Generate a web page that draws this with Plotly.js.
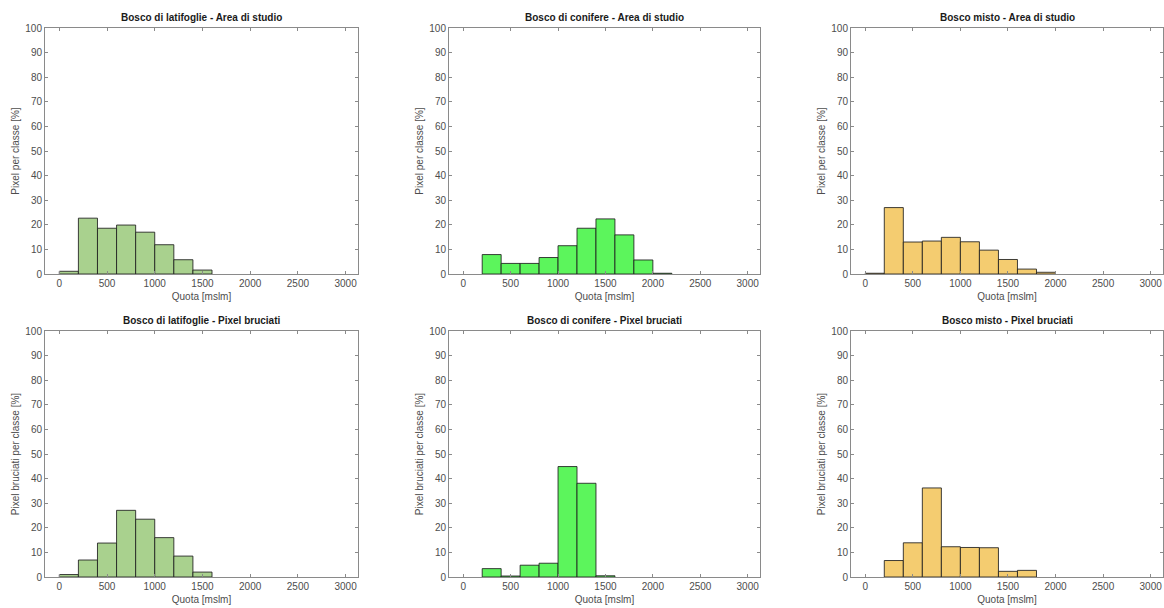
<!DOCTYPE html>
<html>
<head>
<meta charset="utf-8">
<script src="https://cdn.plot.ly/plotly-3.0.1.min.js"></script>
<style>
html,body{margin:0;padding:0;background:#fff;}
#chart{width:1164px;height:608px;}
</style>
</head>
<body>
<div id="chart"></div>
<script>
// Bin centres (200 m wide classes) [m s.l.m.]
const binCenters = [100, 300, 500, 700, 900, 1100, 1300, 1500, 1700, 1900, 2100];

// Area di studio [%]
const latifoglieArea = [1.1, 22.7, 18.6, 19.9, 17.0, 11.9, 5.8, 1.6, null, null, null];
const conifereArea   = [null, 7.9, 4.3, 4.3, 6.7, 11.5, 18.6, 22.4, 15.9, 5.7, 0.3];
const mistoArea      = [0.3, 27.0, 13.0, 13.4, 14.9, 13.1, 9.7, 5.9, 2.0, 0.7, null];

// Pixel bruciati [%]
const latifoglieBurn = [1.0, 6.9, 13.8, 27.1, 23.5, 16.0, 8.5, 2.0, null, null, null];
const conifereBurn   = [null, 3.4, 0.4, 4.8, 5.6, 44.9, 38.1, 0.5, null, null, null];
const mistoBurn      = [null, 6.7, 13.9, 36.2, 12.3, 12.0, 11.9, 2.3, 2.7, null, null];

const panelTitles = [
  "Bosco di latifoglie - Area di studio",
  "Bosco di conifere - Area di studio",
  "Bosco misto - Area di studio",
  "Bosco di latifoglie - Pixel bruciati",
  "Bosco di conifere - Pixel bruciati",
  "Bosco misto - Pixel bruciati"
];
const yTitles = ["Pixel per classe [%]", "Pixel bruciati per classe [%]"];
const xTitle = "Quota [mslm]";
const xTickVals = [0, 500, 1000, 1500, 2000, 2500, 3000];
const yTickVals = [0, 10, 20, 30, 40, 50, 60, 70, 80, 90, 100];

const series = [latifoglieArea, conifereArea, mistoArea, latifoglieBurn, conifereBurn, mistoBurn];
const colors = ["#A9D18E", "#5CF55C", "#F4CC70", "#A9D18E", "#5CF55C", "#F4CC70"];

const W = 1164, H = 608;
const colPx = [[45, 358], [449, 760], [851, 1163]];
const rowPx = [[28, 274], [331, 577]];

const FONT = "Liberation Sans, Arial, Helvetica, sans-serif";
const traces = [];
const layout = {
  width: W, height: H,
  margin: {l: 0, r: 0, t: 0, b: 0},
  paper_bgcolor: "#fff", plot_bgcolor: "#fff",
  showlegend: false,
  font: {family: FONT, size: 10, color: "#4d4d4d"},
  bargap: 0,
  annotations: []
};

for (let i = 0; i < 6; i++) {
  const r = Math.floor(i / 3), c = i % 3;
  const xa = i === 0 ? "x" : "x" + (i + 1);
  const ya = i === 0 ? "y" : "y" + (i + 1);
  traces.push({
    type: "bar",
    x: binCenters,
    y: series[i],
    width: 200,
    xaxis: xa, yaxis: ya,
    marker: {color: colors[i], line: {color: "rgba(30,30,30,0.85)", width: 1}},
    hoverinfo: "x+y"
  });
  const xd = [colPx[c][0] / W, colPx[c][1] / W];
  const yd = [1 - rowPx[r][1] / H, 1 - rowPx[r][0] / H];
  const axCommon = {
    showline: true, linecolor: "#8a8a8a", linewidth: 1, mirror: "ticks",
    ticks: "inside", ticklen: 3, tickcolor: "#8a8a8a", tickwidth: 1,
    showgrid: false, zeroline: false,
    tickfont: {family: FONT, size: 10, color: "#4d4d4d"}
  };
  layout["xaxis" + (i === 0 ? "" : i + 1)] = Object.assign({}, axCommon, {
    domain: xd, anchor: ya, range: [-150, 3130],
    tickmode: "array", tickvals: xTickVals,
    title: {text: xTitle, font: {family: FONT, size: 10, color: "#4d4d4d"}, standoff: 4}
  });
  layout["yaxis" + (i === 0 ? "" : i + 1)] = Object.assign({}, axCommon, {
    domain: yd, anchor: xa, range: [0, 100],
    tickmode: "array", tickvals: yTickVals,
    title: {text: yTitles[r], font: {family: FONT, size: 10, color: "#4d4d4d"}, standoff: 3}
  });
  layout.annotations.push({
    text: "<b>" + panelTitles[i] + "</b>",
    xref: "paper", yref: "paper",
    x: (xd[0] + xd[1]) / 2, y: yd[1],
    xanchor: "center", yanchor: "bottom", yshift: 3,
    showarrow: false,
    font: {family: FONT, size: 10, color: "#1a1a1a"}
  });
}

Plotly.newPlot("chart", traces, layout, {displayModeBar: false, staticPlot: true});
</script>
</body>
</html>
